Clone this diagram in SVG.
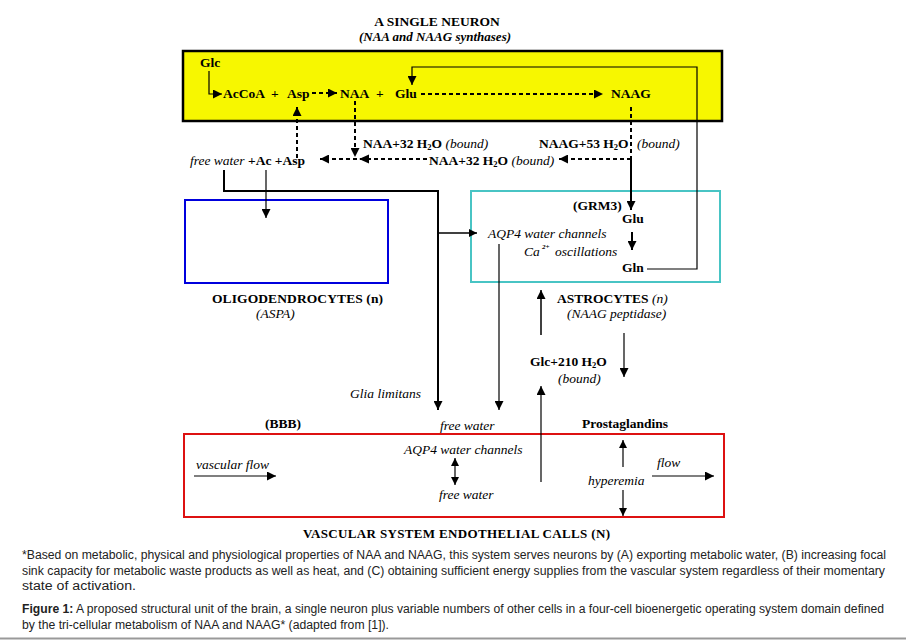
<svg xmlns="http://www.w3.org/2000/svg" width="909" height="641" viewBox="0 0 909 641">
<style>
text{font-family:"Liberation Serif","Times New Roman",serif;font-size:13.5px;font-weight:bold;fill:#000}
.i{font-style:italic;font-weight:normal}
.bi{font-style:italic;font-weight:bold}
.foot{font-family:"Liberation Sans",Arial,sans-serif;font-size:12px;font-weight:normal;fill:#222}
.sub{font-size:8.5px}
.sup{font-size:7px;font-style:italic;font-weight:bold}
.s13{font-size:13px}
.c{fill:none;stroke:#000}
.d{stroke-dasharray:4,3}
</style>
<defs>
<marker id="ah" viewBox="0 0 10 10" refX="10" refY="5" markerWidth="10" markerHeight="9" markerUnits="userSpaceOnUse" orient="auto"><path d="M0,0 L10,5 L0,10 z" fill="#000"/></marker>
<marker id="as" viewBox="0 0 10 10" refX="10" refY="5" markerWidth="9" markerHeight="8" markerUnits="userSpaceOnUse" orient="auto-start-reverse"><path d="M0,0 L10,5 L0,10 z" fill="#000"/></marker>
</defs>
<rect width="909" height="641" fill="#fff"/>

<g id="neuron">
<rect x="183" y="51" width="539" height="70" fill="#f7f700" stroke="#000" stroke-width="2.5"/>
<text x="437" y="26" text-anchor="middle">A SINGLE NEURON</text>
<text x="435" y="41" text-anchor="middle" class="bi s13">(NAA and NAAG synthases)</text>
<text x="200" y="67">Glc</text>
<text x="223" y="98">AcCoA</text>
<text x="271" y="98">+</text>
<text x="287" y="98">Asp</text>
<text x="340" y="98">NAA</text>
<text x="376" y="98">+</text>
<text x="395" y="98">Glu</text>
<text x="611" y="98">NAAG</text>
</g>

<g id="intermediates">
<text x="363" y="148">NAA+32 H<tspan class="sub" dy="2">2</tspan><tspan dy="-2">O </tspan><tspan class="i">(bound)</tspan></text>
<text x="539" y="148">NAAG+53 H<tspan class="sub" dy="2">2</tspan><tspan dy="-2">O</tspan></text>
<text x="637" y="148" class="i">(bound)</text>
<text x="190" y="165"><tspan class="i">free water</tspan> +Ac +Asp</text>
<text x="429" y="165">NAA+32 H<tspan class="sub" dy="2">2</tspan><tspan dy="-2">O </tspan><tspan class="i">(bound)</tspan></text>
</g>

<g id="oligodendrocytes">
<rect x="185" y="200" width="203" height="83" fill="none" stroke="#0000dd" stroke-width="2"/>
<text x="212" y="303" textLength="171" lengthAdjust="spacing">OLIGODENDROCYTES (n)</text>
<text x="256" y="318" class="i">(ASPA)</text>
</g>

<g id="astrocytes">
<rect x="471" y="191" width="249" height="91" fill="none" stroke="#48c4c4" stroke-width="2"/>
<text x="573" y="210">(GRM3)</text>
<text x="622" y="223">Glu</text>
<text x="488" y="238" class="i">AQP4 water channels</text>
<text x="524" y="256" class="i">Ca</text>
<text x="542" y="249" class="sup">2+</text>
<text x="555" y="256" class="i">oscillations</text>
<text x="622" y="272">Gln</text>
<text x="557" y="303">ASTROCYTES <tspan class="i">(n)</tspan></text>
<text x="567" y="318" class="i">(NAAG peptidase)</text>
</g>

<g id="between">
<text x="530" y="366">Glc+210 H<tspan class="sub" dy="2">2</tspan><tspan dy="-2">O</tspan></text>
<text x="558" y="383" class="i">(bound)</text>
<text x="350" y="398" class="i">Glia limitans</text>
<text x="440" y="430" class="i">free water</text>
<text x="265" y="428">(BBB)</text>
<text x="582" y="428">Prostaglandins</text>
</g>

<g id="vascular">
<rect x="184" y="434" width="540" height="83" fill="none" stroke="#dd1111" stroke-width="2"/>
<text x="404" y="454" class="i">AQP4 water channels</text>
<text x="439" y="499" class="i">free water</text>
<text x="196" y="469" class="i">vascular flow</text>
<text x="588" y="485" class="i">hyperemia</text>
<text x="657" y="467" class="i">flow</text>
<text x="303" y="538" class="s13" textLength="307" lengthAdjust="spacing">VASCULAR SYSTEM ENDOTHELIAL CALLS (N)</text>
</g>

<g id="connectors">
<path class="c" stroke-width="1.2" d="M209,71 V94 H222" marker-end="url(#ah)"/>
<path class="c d" stroke-width="2" d="M297,158 V107" marker-end="url(#ah)"/>
<path class="c d" stroke-width="2" d="M312,93 H337" marker-end="url(#ah)"/>
<path class="c d" stroke-width="2" d="M421,94 H603" marker-end="url(#ah)"/>
<path class="c d" stroke-width="2" d="M355,101 V157" marker-end="url(#ah)"/>
<path class="c d" stroke-width="2" d="M631,107 V159"/>
<path class="c" stroke-width="2" d="M631,159 V210" marker-end="url(#ah)"/>
<path class="c d" stroke-width="2" d="M631,159 H559" marker-end="url(#ah)"/>
<path class="c d" stroke-width="2" d="M427,159 H320" marker-end="url(#ah)"/>
<path d="M359,159 L369,154.5 L369,163.5 z" fill="#000"/>
<path class="c" stroke-width="1.2" d="M647,269 H697 V67 H412 V85" marker-end="url(#ah)"/>
<path class="c" stroke-width="2" d="M632,232 V250" marker-end="url(#ah)"/>
<path class="c" stroke-width="2" d="M224,170 V191 H438 V410" marker-end="url(#ah)"/>
<path class="c" stroke-width="1.5" d="M438,233 H477" marker-end="url(#as)"/>
<path class="c" stroke-width="1.2" d="M266,170 V218" marker-end="url(#ah)"/>
<path class="c" stroke-width="1.2" d="M499,244 V410" marker-end="url(#ah)"/>
<path class="c" stroke-width="1.5" d="M541,335 V290" marker-end="url(#ah)"/>
<path class="c" stroke-width="1.2" d="M541,482 V386" marker-end="url(#ah)"/>
<path class="c" stroke-width="1.2" d="M624,333 V377" marker-end="url(#ah)"/>
<path class="c" stroke-width="1.2" d="M455,458 V485" marker-start="url(#as)" marker-end="url(#as)"/>
<path class="c" stroke-width="1.2" d="M194,476 H276" marker-end="url(#ah)"/>
<path class="c" stroke-width="1.2" d="M623,467 V440" marker-end="url(#as)"/>
<path class="c" stroke-width="1.2" d="M623,490 V516" marker-end="url(#as)"/>
<path class="c" stroke-width="1.2" d="M652,476 H714" marker-end="url(#ah)"/>
</g>

<g id="caption">
<text class="foot" x="22" y="559" textLength="864" lengthAdjust="spacingAndGlyphs">*Based on metabolic, physical and physiological properties of NAA and NAAG, this system serves neurons by (A) exporting metabolic water, (B) increasing focal</text>
<text class="foot" x="22" y="575" textLength="863" lengthAdjust="spacingAndGlyphs">sink capacity for metabolic waste products as well as heat, and (C) obtaining sufficient energy supplies from the vascular system regardless of their momentary</text>
<text class="foot" x="22" y="590" textLength="114" lengthAdjust="spacingAndGlyphs">state of activation.</text>
<text class="foot" x="22" y="613" textLength="862" lengthAdjust="spacingAndGlyphs"><tspan font-weight="bold">Figure 1:</tspan> A proposed structural unit of the brain, a single neuron plus variable numbers of other cells in a four-cell bioenergetic operating system domain defined</text>
<text class="foot" x="22" y="629" textLength="367" lengthAdjust="spacingAndGlyphs">by the tri-cellular metabolism of NAA and NAAG* (adapted from [1]).</text>
<line x1="0" y1="638.5" x2="906" y2="638.5" stroke="#999" stroke-width="2"/>
</g>
</svg>
